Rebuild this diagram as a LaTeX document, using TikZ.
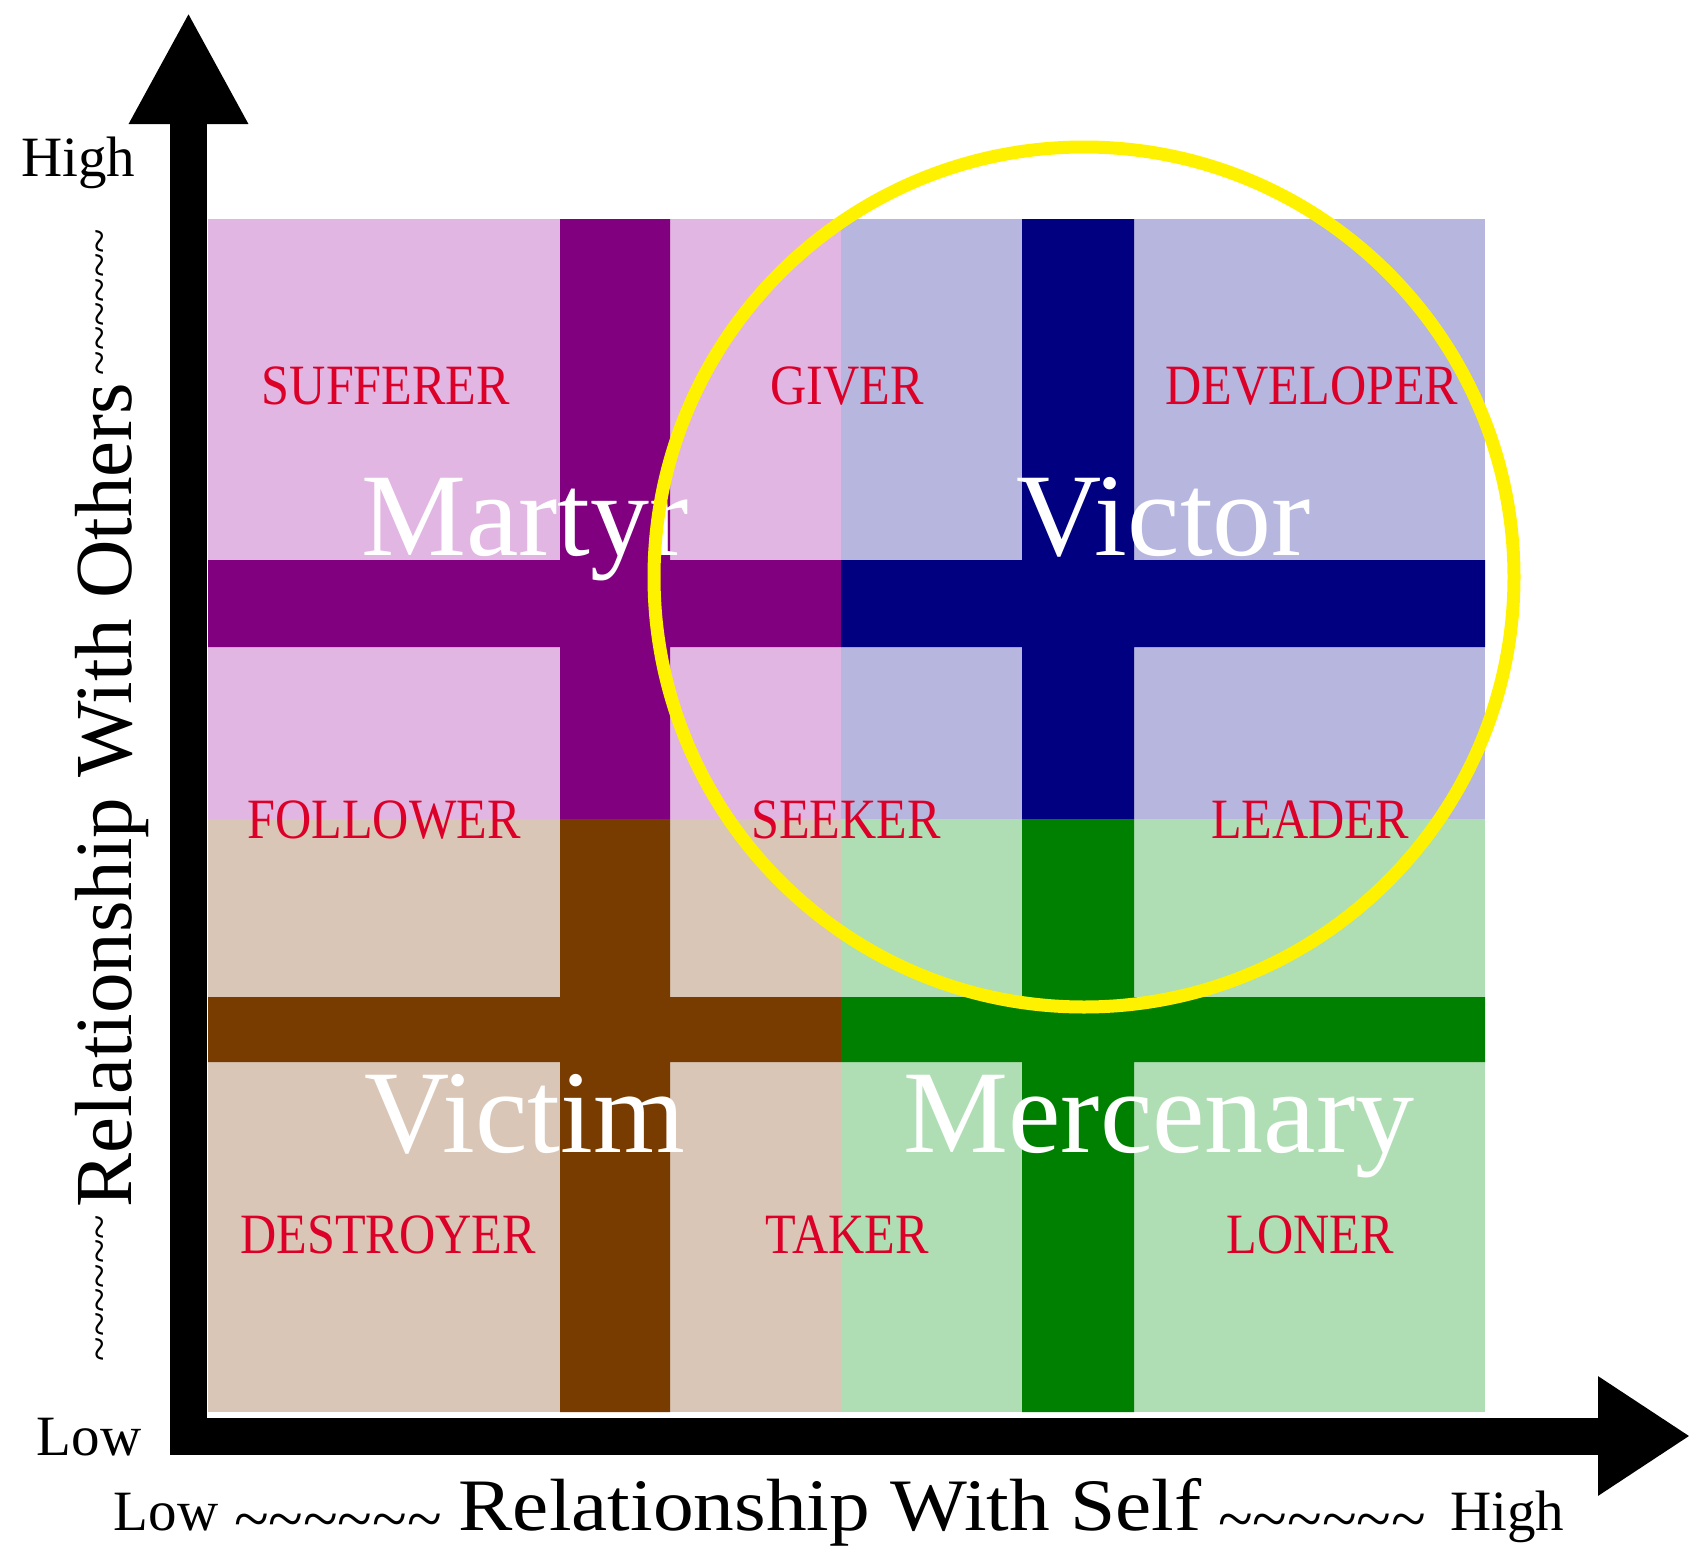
\documentclass[tikz,border=0pt]{standalone}
\usepackage{fontspec}
\setmainfont{Liberation Serif}
\newfontfamily\rolefont[FakeStretch=0.88]{Liberation Serif}
\newfontfamily\selffont[FakeStretch=1.1]{Liberation Serif}
\usetikzlibrary{positioning,arrows.meta}
\definecolor{martyrbg}{RGB}{226,182,226}
\definecolor{victorbg}{RGB}{182,182,222}
\definecolor{victimbg}{RGB}{218,198,182}
\definecolor{mercbg}{RGB}{176,222,180}
\definecolor{martyrbar}{RGB}{128,0,128}
\definecolor{victorbar}{RGB}{0,0,128}
\definecolor{victimbar}{RGB}{120,60,0}
\definecolor{mercbar}{RGB}{0,128,0}
\definecolor{rolered}{RGB}{220,0,40}
\newcommand{\wavy}{\textasciitilde\textasciitilde\textasciitilde\textasciitilde\textasciitilde\textasciitilde}

\begin{document}
\begin{tikzpicture}[x=1pt, y=-1pt,
  role/.style={text=rolered, font=\rolefont\fontsize{57}{57}\selectfont, anchor=base, inner sep=0pt},
  kind/.style={text=white, font=\fontsize{118}{118}\selectfont, anchor=base, inner sep=0pt},
  level/.style={font=\fontsize{57}{57}\selectfont, anchor=base, inner sep=0pt},
  wave/.style={font=\fontsize{64}{64}\selectfont, anchor=base, inner sep=0pt},
  axis/.style={line width=37pt, line join=miter, {Triangle[width=111pt,length=112pt]}-{Triangle[width=113pt,length=92pt]}}]
  \useasboundingbox[fill=white] (0,0) rectangle (1690,1555);
  % quadrants
  \fill[martyrbg] (208,219) rectangle (841,819);
  \fill[victorbg] (841,219) rectangle (1485,819);
  \fill[victimbg] (208,819) rectangle (841,1412);
  \fill[mercbg] (841,819) rectangle (1485,1412);
  % crosses
  \fill[martyrbar] (560,219) rectangle (670,819) (208,560) rectangle (841,647);
  \fill[victorbar] (1022,219) rectangle (1134,819) (841,560) rectangle (1485,647);
  \fill[victimbar] (560,819) rectangle (670,1412) (208,997) rectangle (841,1062);
  \fill[mercbar] (1022,819) rectangle (1134,1412) (841,997) rectangle (1485,1062);
  % axes
  \coordinate (ytip) at (188.5,12);
  \coordinate (corner) at (188.5,1436);
  \coordinate (xtip) at (1690,1436);
  \draw[axis] (ytip) -- (corner) -- (xtip);
  % roles
  \node[role] (sufferer) at (386,404) {SUFFERER};
  \node[role] (giver) at (847,404) {GIVER};
  \node[role] (developer) at (1312,404) {DEVELOPER};
  \node[role] (follower) at (384,838) {FOLLOWER};
  \node[role] (seeker) at (846,838) {SEEKER};
  \node[role] (leader) at (1310,838) {LEADER};
  \node[role] (destroyer) at (388,1253) {DESTROYER};
  \node[role] (taker) at (847,1253) {TAKER};
  \node[role] (loner) at (1310,1253) {LONER};
  % types
  \node[kind] (martyr) at (525,555) {Martyr};
  \node[kind] (victor) at (1164,555) {Victor};
  \node[kind] (victim) at (525,1152) {Victim};
  \node[kind] (mercenary) at (1159,1152) {Mercenary};
  \draw[yellow, line width=13pt] (1084,577) circle[radius=430];
  % axis labels
  \node[level] (yhigh) at (78,176) {High};
  \node[level] (ylow) at (89,1455) {Low};
  \node[level] (xlow) at (166,1530) {Low};
  \node[level] (xhigh) at (1507,1530) {High};
  \node[anchor=base, inner sep=0pt, font=\selffont\fontsize{74}{74}\selectfont] (self) at (830,1530) {Relationship With Self};
  \node[wave] (selfwavel) at (338,1540) {\wavy};
  \node[wave] (selfwaver) at (1322,1540) {\wavy};
  \node[rotate=90, anchor=base, inner sep=0pt, font=\fontsize{81}{81}\selectfont] (others) at (131,795) {Relationship With Others};
  \node[wave, rotate=90, font=\fontsize{45}{45}\selectfont] (otherswavet) at (114,302) {\wavy};
  \node[wave, rotate=90, font=\fontsize{45}{45}\selectfont] (otherswaveb) at (114,1288) {\wavy};
\end{tikzpicture}
\end{document}
